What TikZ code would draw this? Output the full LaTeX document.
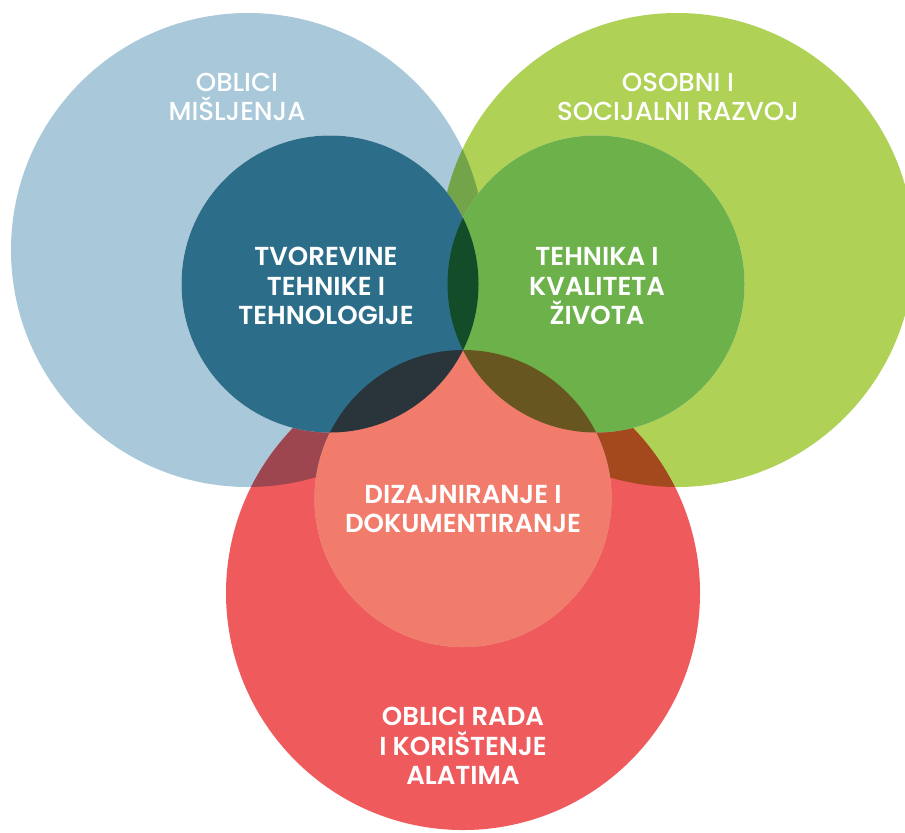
\documentclass[tikz,border=0pt]{standalone}
\usepackage{fontspec}
\setmainfont{Poppins}[BoldFont={Poppins SemiBold}]
\newfontfamily\medfont{Poppins Medium}
\definecolor{bigblue}{HTML}{A9C9DB}
\definecolor{biggreen}{HTML}{AFD155}
\definecolor{bigred}{HTML}{EF5A5C}
\definecolor{medblue}{HTML}{2C6E8A}
\definecolor{medgreen}{HTML}{6DB14B}
\definecolor{medsalmon}{HTML}{F17C6C}
\begin{document}
\begin{tikzpicture}[x=0.75pt,y=-0.75pt,
  bigc/.style={circle,minimum size=355.5pt,inner sep=0pt,outer sep=0pt},
  medc/.style={circle,minimum size=222.75pt,inner sep=0pt,outer sep=0pt},
  lab/.style={text=white,align=center,font=\fontsize{19.5}{22}\selectfont\bfseries},
  toplab/.style={text=white,align=center,font=\fontsize{19.5}{22}\selectfont\medfont}]
\fill[white] (0,0) rectangle (905,832);
\useasboundingbox (0,0) rectangle (905,832);
\clip (0,0) rectangle (905,832);
% big circles, multiplied together
\begin{scope}[blend mode=multiply]
\node[bigc,fill=bigblue] (B1) at (248,250) {};
\node[bigc,fill=biggreen] (B2) at (677,250) {};
\node[bigc,fill=bigred] (B3) at (463,593) {};
\end{scope}
% knock out medium circle area
\fill[white] (330,284) circle[radius=111.375pt];
\fill[white] (596,284) circle[radius=111.375pt];
\fill[white] (463,498.5) circle[radius=111.375pt];
\begin{scope}[blend mode=multiply]
\node[medc,fill=medblue] (M1) at (330,284) {};
\node[medc,fill=medgreen] (M2) at (596,284) {};
\node[medc,fill=medsalmon] (M3) at (463,498.5) {};
\end{scope}
% labels
\node[toplab] (t1) at (237,97) {OBLICI\\MIŠLJENJA};
\node[toplab] (t2) at (678,97) {OSOBNI I\\SOCIJALNI RAZVOJ};
\node[lab] (t3) at (326,286) {TVOREVINE\\TEHNIKE I\\TEHNOLOGIJE};
\node[lab] (t4) at (597,286) {TEHNIKA I\\KVALITETA\\ŽIVOTA};
\node[lab] (t5) at (463,509) {DIZAJNIRANJE I\\DOKUMENTIRANJE};
\node[lab] (t6) at (463,746) {OBLICI RADA\\I KORIŠTENJE\\ALATIMA};
\end{tikzpicture}
\end{document}
